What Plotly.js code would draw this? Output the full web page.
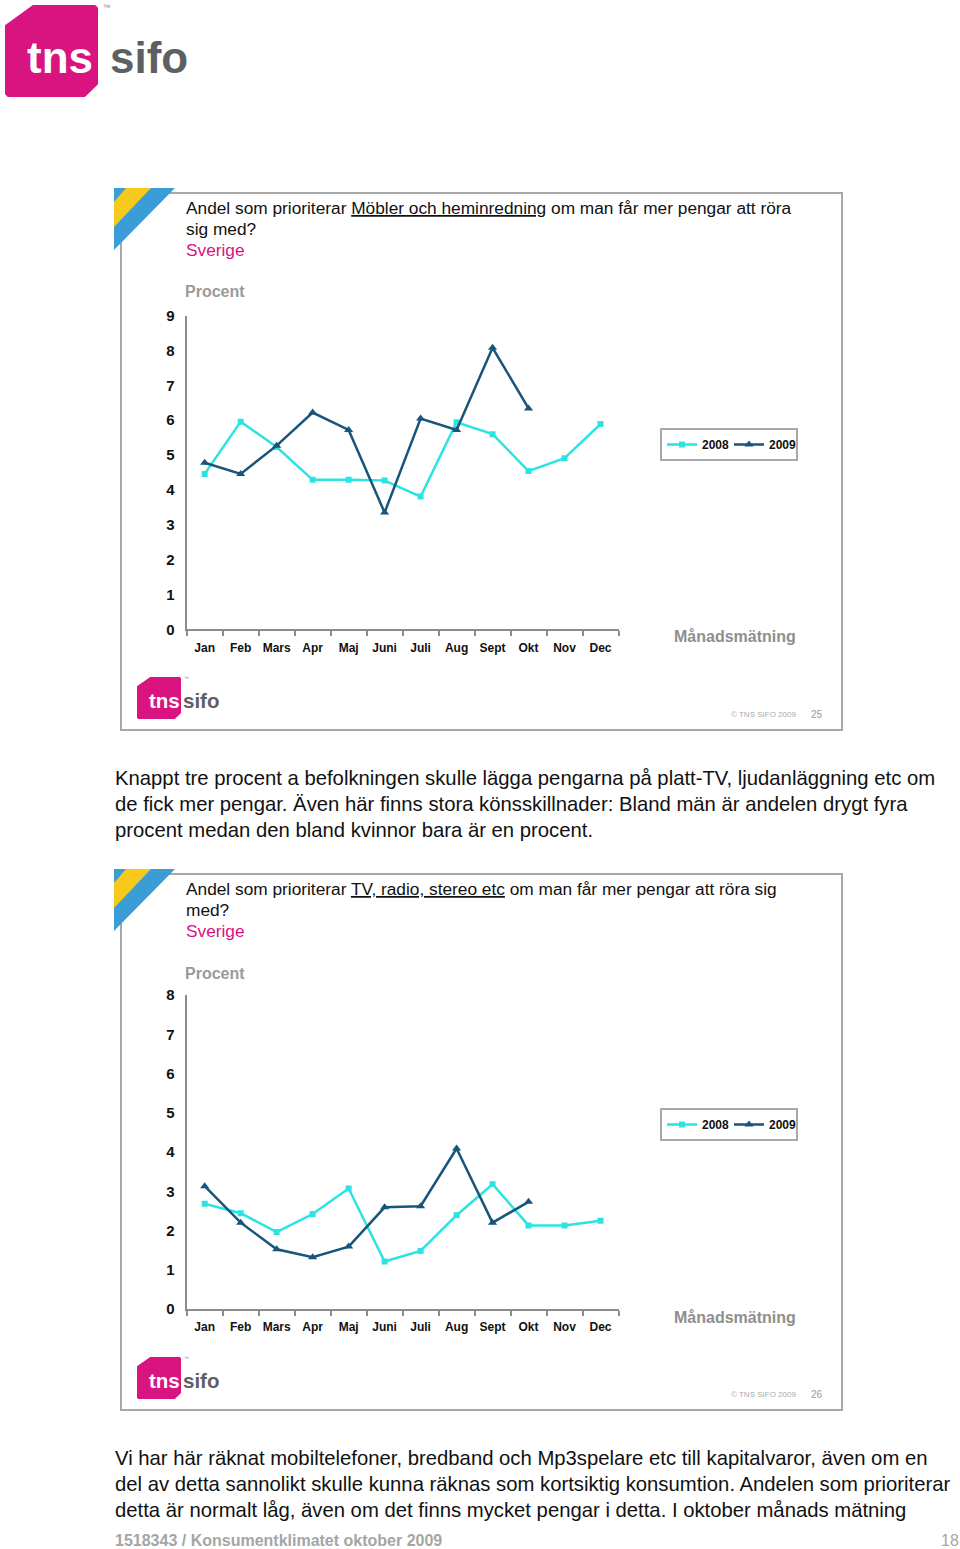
<!DOCTYPE html>
<html>
<head>
<meta charset="utf-8">
<script src="https://cdn.plot.ly/plotly-3.0.1.min.js"></script>
<style>
html,body{margin:0;padding:0;background:#fff;}
#chart{width:960px;height:1549px;}
</style>
</head>
<body>
<div id="chart"></div>
<script>
// ---------- DATA ----------
const months = ['Jan','Feb','Mars','Apr','Maj','Juni','Juli','Aug','Sept','Okt','Nov','Dec'];
const months2009 = months.slice(0, 10);
const mobler2008 = [4.46, 5.96, 5.23, 4.29, 4.29, 4.27, 3.81, 5.94, 5.60, 4.54, 4.91, 5.89];
const mobler2009 = [4.78, 4.46, 5.27, 6.22, 5.72, 3.35, 6.05, 5.72, 8.08, 6.34];
const tv2008 = [2.68, 2.44, 1.96, 2.42, 3.07, 1.21, 1.48, 2.39, 3.18, 2.13, 2.13, 2.25];
const tv2009 = [3.13, 2.20, 1.52, 1.32, 1.59, 2.59, 2.62, 4.09, 2.20, 2.73];
const seriesNames = ['2008', '2009'];

// ---------- helpers (page pixel -> paper) ----------
const W = 960, H = 1549;
const X = p => p / W;
const Y = p => 1 - p / H;
const ptsPath = pts => 'M' + pts.map(p => X(p[0]).toFixed(5) + ',' + Y(p[1]).toFixed(5)).join(' L') + ' Z';

const FONT = '"Liberation Sans", Arial, sans-serif';
const CYAN = '#2be3e3';
const DARK = '#17557a';
const AXIS = '#8c8c8c';
const MAGENTA = '#d9127f';
const BOXC = '#a8a8a8';

// ---------- traces ----------
function line08(y, xa, ya, leg) {
  return {x: months, y: y, xaxis: xa, yaxis: ya, name: seriesNames[0], legend: leg,
    type: 'scatter', mode: 'lines+markers',
    line: {color: CYAN, width: 2.5}, marker: {symbol: 'square', size: 6, color: CYAN}};
}
function line09(y, xa, ya, leg) {
  return {x: months2009, y: y, xaxis: xa, yaxis: ya, name: seriesNames[1], legend: leg,
    type: 'scatter', mode: 'lines+markers',
    line: {color: DARK, width: 2.5}, marker: {symbol: 'triangle-up', size: 8, color: DARK}};
}
const data = [
  line08(mobler2008, 'x', 'y', 'legend'),
  line09(mobler2009, 'x', 'y', 'legend'),
  line08(tv2008, 'x2', 'y2', 'legend2'),
  line09(tv2009, 'x2', 'y2', 'legend2')
];

// ---------- axes ----------
function xAxis(anchor) {
  return {domain: [X(186.7), X(618.5)], anchor: anchor, type: 'category',
    categoryarray: months, range: [-0.5, 11.5], tickangle: 0,
    showline: true, linecolor: AXIS, linewidth: 2, showgrid: false, zeroline: false,
    ticks: 'outside', tickson: 'boundaries', ticklen: 5, tickwidth: 2, tickcolor: AXIS,
    ticklabelstandoff: 6,
    tickfont: {family: FONT, size: 12, color: '#111', weight: 'bold'}, fixedrange: true};
}
function yAxis(anchor, top, bottom, max) {
  return {domain: [Y(bottom), Y(top)], anchor: anchor, range: [0, max], dtick: 1,
    showline: true, linecolor: AXIS, linewidth: 2, showgrid: false, zeroline: false,
    ticks: '', ticklabelstandoff: 7,
    tickfont: {family: FONT, size: 15, color: '#111', weight: 'bold'}, fixedrange: true};
}

// ---------- decorations ----------
const shapes = [];
const annotations = [];

function ann(text, x, y, size, color, opts) {
  annotations.push(Object.assign({xref: 'paper', yref: 'paper', x: X(x), y: Y(y),
    xanchor: 'left', yanchor: 'middle', showarrow: false, text: text,
    font: {family: FONT, size: size, color: color}}, opts || {}));
}

function logo(x0, y0, w, h, fs, sifoGap) {
  const P = (u, v) => [x0 + u * w, y0 + v * h];
  shapes.push({type: 'path', xref: 'paper', yref: 'paper', layer: 'above',
    path: ptsPath([P(0.30, 0), P(0.97, 0), P(1, 0.03), P(1, 0.86), P(0.86, 1), P(0.03, 1), P(0, 0.97), P(0, 0.22)]),
    fillcolor: '#d9137f', line: {width: 0}});
  ann('<b>tns</b>', x0 + 0.22 * w, y0 + 0.57 * h, fs, '#ffffff', {xanchor: 'left'});
  ann('<b>sifo</b>', x0 + w + sifoGap, y0 + 0.57 * h, fs, '#5e5f61', {xanchor: 'left'});
  ann('™', x0 + 1.03 * w, y0 + 0.03 * h, Math.max(5, fs * 0.18), '#888', {xanchor: 'left'});
}

function panel(top, bottom, q1, q2, underlined, captionY, num) {
  // panel box
  shapes.push({type: 'rect', xref: 'paper', yref: 'paper', x0: X(121), x1: X(842), y0: Y(top), y1: Y(bottom),
    line: {color: BOXC, width: 2}, fillcolor: 'rgba(0,0,0,0)', layer: 'below'});
  // corner stripes
  const t = top - 5;
  shapes.push({type: 'path', xref: 'paper', yref: 'paper', layer: 'above',
    path: ptsPath([[114, t], [175, t], [114, t + 62]]), fillcolor: '#3a9dd5', line: {width: 0}});
  shapes.push({type: 'path', xref: 'paper', yref: 'paper', layer: 'above',
    path: ptsPath([[126, t], [151, t], [114, t + 39], [114, t + 14]]), fillcolor: '#f6c91c', line: {width: 0}});
  // header
  ann(q1[0] + '<span style="text-decoration:underline">' + underlined + '</span>' + q1[1], 184, top + 15, 17.3, '#111');
  ann(q2, 184, top + 36, 17.3, '#111');
  ann('Sverige', 184, top + 57, 17.3, MAGENTA);
  ann('<b>Procent</b>', 183, top + 99, 16, '#9a9a9a');
  ann('<b>Månadsmätning</b>', 735, captionY, 16, '#8e8e8e', {xanchor: 'center'});
  logo(137, bottom - 53, 44, 42, 20.5, 0);
  ann('© TNS SIFO 2009', 763, bottom - 16, 8, '#aaaaaa', {xanchor: 'center'});
  ann(num, 817, bottom - 16, 10, '#999999', {xanchor: 'center'});
}

// main logo
logo(5, 5, 93, 92, 44, 10);

panel(193, 730,
  ['Andel som prioriterar ', ' om man får mer pengar att röra'], 'sig med?',
  'Möbler och heminredning', 637, '25');
panel(874, 1410,
  ['Andel som prioriterar ', ' om man får mer pengar att röra sig'], 'med?',
  'TV, radio, stereo etc', 1317, '26');

const para1 = [
  'Knappt tre procent a befolkningen skulle lägga pengarna på platt-TV, ljudanläggning etc om',
  'de fick mer pengar. Även här finns stora könsskillnader: Bland män är andelen drygt fyra',
  'procent medan den bland kvinnor bara är en procent.'
];
const para2 = [
  'Vi har här räknat mobiltelefoner, bredband och Mp3spelare etc till kapitalvaror, även om en',
  'del av detta sannolikt skulle kunna räknas som kortsiktig konsumtion. Andelen som prioriterar',
  'detta är normalt låg, även om det finns mycket pengar i detta. I oktober månads mätning'
];
para1.forEach((s, i) => ann(s, 113, 778 + 26 * i, 20.3, '#111'));
para2.forEach((s, i) => ann(s, 113, 1458 + 26 * i, 20.3, '#111'));
ann('<b>1518343 / Konsumentklimatet oktober 2009</b>', 113, 1540, 16, '#a5a5a5');
ann('18', 961, 1540, 16, '#a5a5a5', {xanchor: 'right'});

function legendCfg(top) {
  return {x: X(660), y: Y(top), xanchor: 'left', yanchor: 'top', orientation: 'h',
    bordercolor: BOXC, borderwidth: 2, bgcolor: '#fff', itemwidth: 30,
    entrywidth: 22, entrywidthmode: 'pixels', tracegroupgap: 0,
    font: {family: FONT, size: 12, color: '#111', weight: 'bold'}};
}

const layout = {
  width: W, height: H, margin: {l: 0, r: 0, t: 0, b: 0},
  paper_bgcolor: '#fff', plot_bgcolor: 'rgba(0,0,0,0)',
  showlegend: true,
  legend: legendCfg(428),
  legend2: legendCfg(1108),
  xaxis: xAxis('y'), yaxis: yAxis('x', 315.7, 629.3, 9),
  xaxis2: xAxis('y2'), yaxis2: yAxis('x2', 995, 1309, 8),
  shapes: shapes, annotations: annotations,
  hovermode: false
};

Plotly.newPlot('chart', data, layout, {staticPlot: true, displayModeBar: false});
</script>
</body>
</html>
